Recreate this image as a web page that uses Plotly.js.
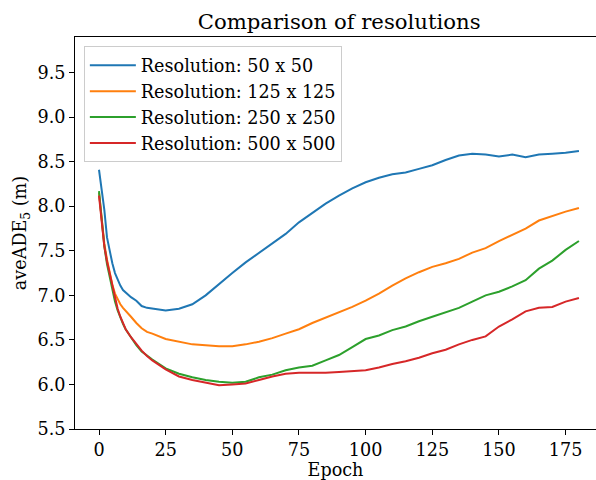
<!DOCTYPE html>
<html>
<head>
<meta charset="utf-8">
<script src="https://cdn.plot.ly/plotly-3.0.1.min.js"></script>
<style>
  html, body { margin: 0; padding: 0; background: #fff; }
  #chart { width: 596px; height: 480px; }
</style>
</head>
<body>
<div id="chart"></div>
<script>
// Training epochs at which the validation error was recorded
const epochs = [0, 1, 2, 3, 4, 5, 6, 7, 8, 9, 10, 12, 14, 16, 18, 20,
  25, 30, 35, 40, 45, 50, 55, 60, 65, 70, 75, 80, 85, 90, 95, 100,
  105, 110, 115, 120, 125, 130, 135, 140, 145, 150, 155, 160, 165, 170, 175, 180];

// aveADE_5 (m) per grid resolution
const res50 = [8.41, 8.20, 7.96, 7.65, 7.50, 7.36, 7.25, 7.17, 7.11, 7.06, 7.03, 6.98, 6.94, 6.88, 6.86, 6.85,
  6.83, 6.85, 6.90, 7.00, 7.13, 7.25, 7.37, 7.48, 7.58, 7.69, 7.82, 7.93, 8.03, 8.12, 8.20, 8.27,
  8.32, 8.36, 8.38, 8.42, 8.46, 8.52, 8.57, 8.59, 8.58, 8.56, 8.58, 8.55, 8.58, 8.59, 8.60, 8.62];

const res125 = [8.15, 7.85, 7.58, 7.40, 7.25, 7.12, 7.02, 6.95, 6.90, 6.86, 6.83, 6.76, 6.69, 6.63, 6.59, 6.57,
  6.51, 6.48, 6.45, 6.44, 6.43, 6.43, 6.45, 6.48, 6.52, 6.57, 6.62, 6.69, 6.75, 6.81, 6.87, 6.94,
  7.02, 7.11, 7.19, 7.26, 7.32, 7.36, 7.41, 7.48, 7.53, 7.61, 7.68, 7.75, 7.84, 7.89, 7.94, 7.98];

const res250 = [8.17, 7.85, 7.55, 7.35, 7.20, 7.05, 6.93, 6.83, 6.75, 6.68, 6.62, 6.53, 6.44, 6.37, 6.32, 6.28,
  6.18, 6.12, 6.08, 6.05, 6.03, 6.02, 6.03, 6.08, 6.11, 6.16, 6.19, 6.21, 6.27, 6.33, 6.42, 6.51,
  6.55, 6.61, 6.65, 6.71, 6.76, 6.81, 6.86, 6.93, 7.00, 7.04, 7.10, 7.17, 7.30, 7.39, 7.51, 7.61];

const res500 = [8.12, 7.80, 7.55, 7.38, 7.25, 7.10, 6.97, 6.85, 6.76, 6.68, 6.62, 6.53, 6.45, 6.38, 6.32, 6.27,
  6.17, 6.09, 6.05, 6.02, 5.99, 6.00, 6.01, 6.05, 6.09, 6.12, 6.13, 6.13, 6.13, 6.14, 6.15, 6.16,
  6.19, 6.23, 6.26, 6.30, 6.35, 6.39, 6.45, 6.50, 6.54, 6.65, 6.73, 6.82, 6.86, 6.87, 6.93, 6.97];

const seriesNames = ['Resolution: 50 x 50', 'Resolution: 125 x 125',
  'Resolution: 250 x 250', 'Resolution: 500 x 500'];
const seriesValues = [res50, res125, res250, res500];
const seriesColors = ['#1f77b4', '#ff7f0e', '#2ca02c', '#d62728'];

const xTicks = [0, 25, 50, 75, 100, 125, 150, 175];
const yTicks = [5.5, 6.0, 6.5, 7.0, 7.5, 8.0, 8.5, 9.0, 9.5];

const FONT = 'DejaVu Serif, Liberation Serif, serif';
const BASE = 17.6;

const traces = seriesValues.map((vals, i) => ({
  type: 'scatter',
  mode: 'lines',
  x: epochs,
  y: vals,
  name: seriesNames[i],
  line: { color: seriesColors[i], width: 2 }
}));

const layout = {
  width: 596,
  height: 480,
  margin: { l: 75, r: 0, t: 37, b: 51, pad: 0 },
  paper_bgcolor: '#ffffff',
  plot_bgcolor: '#ffffff',
  font: { family: FONT, size: BASE, color: '#000' },
  title: {
    text: 'Comparison of resolutions',
    font: { family: FONT, size: 21.2, color: '#000' },
    x: 0.569, xref: 'container', xanchor: 'center',
    y: 0.956, yref: 'container', yanchor: 'middle'
  },
  xaxis: {
    range: [-9, 186.4],
    tickvals: xTicks,
    ticktext: xTicks.map(String),
    ticks: 'outside', ticklen: 5, tickwidth: 1, tickcolor: '#000',
    showline: true, linecolor: '#000', linewidth: 1, mirror: true,
    showgrid: false, zeroline: false,
    tickfont: { family: FONT, size: BASE, color: '#000' },
    title: { text: 'Epoch', font: { family: FONT, size: BASE, color: '#000' }, standoff: 3 }
  },
  yaxis: {
    range: [5.5, 9.9],
    tickvals: yTicks,
    ticktext: yTicks.map(v => v.toFixed(1)),
    ticks: 'outside', ticklen: 5, tickwidth: 1, tickcolor: '#000',
    showline: true, linecolor: '#000', linewidth: 1, mirror: false,
    showgrid: false, zeroline: false,
    tickfont: { family: FONT, size: BASE, color: '#000' },
    title: { text: 'aveADE<sub>5</sub> (m)', font: { family: FONT, size: BASE, color: '#000' }, standoff: 6 }
  },
  showlegend: true,
  legend: {
    x: 0.017, y: 0.976, xanchor: 'left', yanchor: 'top',
    bgcolor: 'rgba(255,255,255,0.8)',
    bordercolor: '#cccccc', borderwidth: 1,
    itemwidth: 46,
    font: { family: FONT, size: BASE, color: '#000' }
  }
};

Plotly.newPlot('chart', traces, layout, { displayModeBar: false, staticPlot: true });
</script>
</body>
</html>
